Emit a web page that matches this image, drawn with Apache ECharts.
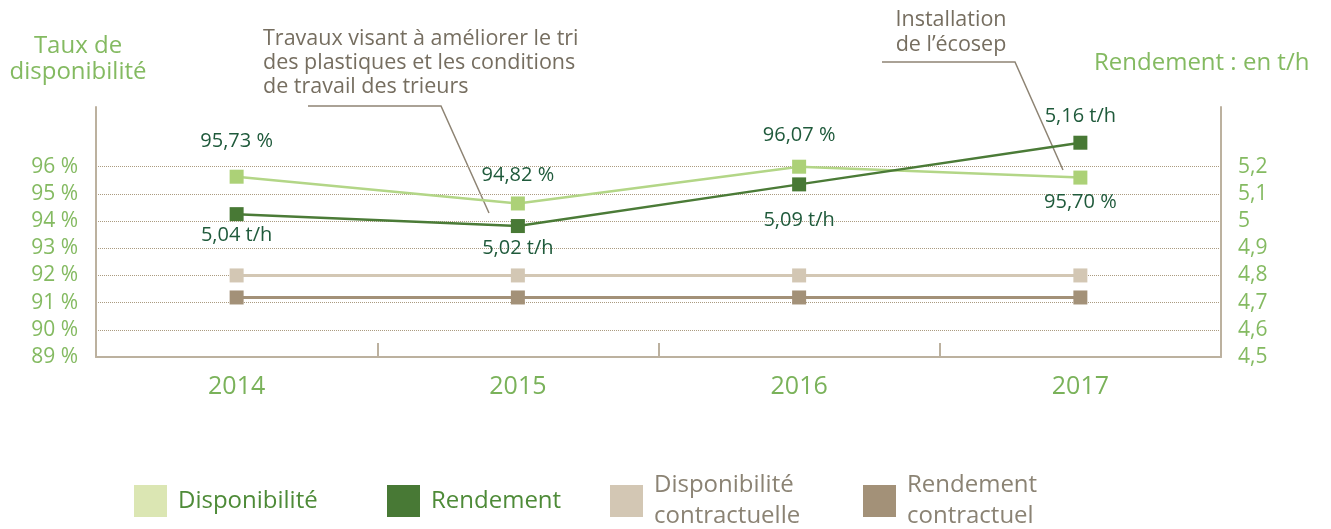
<!DOCTYPE html>
<html lang="fr">
<head>
<meta charset="utf-8">
<title>Disponibilité et rendement 2014–2017</title>
<script src="https://cdn.jsdelivr.net/npm/echarts@6/dist/echarts.min.js"></script>
<style>
  html, body { margin: 0; padding: 0; background: #ffffff; }
  #chart { width: 1331px; height: 529px; }
</style>
</head>
<body>
<div id="chart"></div>
<script>
// Years on the horizontal axis
const years = ['2014', '2015', '2016', '2017'];

// Availability rate (%) and throughput (t/h)
const disponibilite = [95.73, 94.82, 96.07, 95.70];
const rendement = [5.04, 5.02, 5.09, 5.16];

// Contractual targets
const disponibiliteContractuelle = [92, 92, 92, 92];
const rendementContractuel = [4.9, 4.9, 4.9, 4.9];

// Tick labels of the two value axes
const tauxTicks = [89, 90, 91, 92, 93, 94, 95, 96];
const rendementTicks = [4.5, 4.6, 4.7, 4.8, 4.9, 5.0, 5.1, 5.2];

const FONT = '"Open Sans", "Noto Sans", sans-serif';
const GREEN_AXIS = '#84ba61';
const LABEL_GREEN = '#1f5a3b';
const GRID_DOT = '#ab9b80';
const AXIS_LINE = '#bcb19f';
const NOTE = '#766e60';

const fmtPct = v => v.toFixed(2).replace('.', ',') + ' %';
const fmtTh = v => v.toFixed(2).replace('.', ',') + ' t/h';
const fmtAxis = v => String(Math.round(v * 10) / 10).replace('.', ',');

// vertical offsets of the value labels relative to each marker
const dispOffsets = [-35, -28, -31, 25];
const rendOffsets = [21, 22, 36, -26];

function labelled(values, offsets, fmt) {
  return values.map((v, i) => ({
    value: v,
    label: {
      show: true,
      position: 'inside',
      offset: [0, offsets[i]],
      formatter: () => fmt(v),
      color: LABEL_GREEN,
      fontFamily: FONT,
      fontSize: 20
    }
  }));
}

const chart = echarts.init(document.getElementById('chart'), null, { renderer: 'canvas' });

const legendBase = {
  orient: 'horizontal',
  top: 485,
  padding: 0,
  icon: 'rect',
  itemWidth: 33,
  itemHeight: 32,
  selectedMode: false,
  textStyle: { fontFamily: FONT, fontSize: 24, lineHeight: 31, padding: [0, 0, 0, 6] }
};

const option = {
  animation: false,
  backgroundColor: '#ffffff',
  grid: [
    { left: 96, right: 110, top: 166.7, bottom: 172, containLabel: false },
    { left: 96, right: 110, top: 107, bottom: 172, containLabel: false }
  ],
  xAxis: [
    {
      gridIndex: 0, type: 'category', data: years,
      axisLine: { show: false }, axisTick: { show: false }, axisLabel: { show: false }
    },
    {
      gridIndex: 1, type: 'category', data: years,
      axisLine: { show: true, lineStyle: { color: AXIS_LINE, width: 2 } },
      axisTick: { show: true, inside: true, length: 14, lineStyle: { color: AXIS_LINE, width: 2 } },
      axisLabel: { color: '#7ab25a', fontFamily: FONT, fontSize: 25, lineHeight: 26, margin: 17 }
    }
  ],
  yAxis: [
    {
      gridIndex: 0, type: 'value', position: 'left',
      min: tauxTicks[0], max: tauxTicks[tauxTicks.length - 1], interval: 1,
      axisLine: { show: false }, axisTick: { show: false },
      axisLabel: { color: GREEN_AXIS, fontFamily: FONT, fontSize: 21, margin: 18, formatter: v => v + ' %' },
      splitLine: { show: true, lineStyle: { color: GRID_DOT, type: 'dotted', width: 1 } }
    },
    {
      gridIndex: 0, type: 'value', position: 'right',
      min: rendementTicks[0], max: rendementTicks[rendementTicks.length - 1], interval: 0.1,
      axisLine: { show: false }, axisTick: { show: false },
      axisLabel: { color: GREEN_AXIS, fontFamily: FONT, fontSize: 21, margin: 17, formatter: fmtAxis },
      splitLine: { show: false }
    },
    {
      // scale carrying the availability curve
      gridIndex: 1, type: 'value', position: 'left', min: 89.6, max: 98.1,
      axisLine: { show: true, lineStyle: { color: AXIS_LINE, width: 2 } },
      axisTick: { show: false }, axisLabel: { show: false }, splitLine: { show: false }
    },
    {
      // scale carrying the throughput curves
      gridIndex: 1, type: 'value', position: 'right', min: 4.8, max: 5.22,
      axisLine: { show: true, lineStyle: { color: AXIS_LINE, width: 2 } },
      axisTick: { show: false }, axisLabel: { show: false }, splitLine: { show: false }
    }
  ],
  legend: [
    Object.assign({}, legendBase, {
      left: 134,
      data: [{ name: 'Disponibilité', itemStyle: { color: '#dbe6b3' }, textStyle: { color: '#4e8b38' } }]
    }),
    Object.assign({}, legendBase, {
      left: 387,
      data: [{ name: 'Rendement', itemStyle: { color: '#487935' }, textStyle: { color: '#4e8b38' } }]
    }),
    Object.assign({}, legendBase, {
      left: 610, top: 470,
      data: [{ name: 'Disponibilité\ncontractuelle', itemStyle: { color: '#d3c7b4' }, textStyle: { color: '#8b8374' } }]
    }),
    Object.assign({}, legendBase, {
      left: 863, top: 470,
      data: [{ name: 'Rendement\ncontractuel', itemStyle: { color: '#a39178' }, textStyle: { color: '#8b8374' } }]
    })
  ],
  series: [
    {
      name: 'Disponibilité\ncontractuelle', type: 'line', xAxisIndex: 0, yAxisIndex: 0,
      data: disponibiliteContractuelle,
      symbol: 'rect', symbolSize: 14,
      lineStyle: { color: '#d3c7b4', width: 3 },
      itemStyle: { color: '#d3c7b4' },
      z: 3
    },
    {
      name: 'Rendement\ncontractuel', type: 'line', xAxisIndex: 1, yAxisIndex: 3,
      data: rendementContractuel,
      symbol: 'rect', symbolSize: 14,
      lineStyle: { color: '#a39178', width: 3 },
      itemStyle: { color: '#a39178' },
      z: 3
    },
    {
      name: 'Disponibilité', type: 'line', xAxisIndex: 1, yAxisIndex: 2,
      data: labelled(disponibilite, dispOffsets, fmtPct),
      symbol: 'rect', symbolSize: 14,
      lineStyle: { color: '#b3d687', width: 2.5 },
      itemStyle: { color: '#acd177' },
      z: 4
    },
    {
      name: 'Rendement', type: 'line', xAxisIndex: 1, yAxisIndex: 3,
      data: labelled(rendement, rendOffsets, fmtTh),
      symbol: 'rect', symbolSize: 14,
      lineStyle: { color: '#4b7b37', width: 2.5 },
      itemStyle: { color: '#487935' },
      z: 5
    }
  ],
  graphic: [
    // axis titles
    {
      type: 'text', x: 78, y: 33,
      style: {
        text: 'Taux de\ndisponibilité', textAlign: 'center', align: 'center',
        fill: GREEN_AXIS, font: '24px ' + FONT, lineHeight: 26
      }
    },
    {
      type: 'text', left: 1094, top: 51,
      style: { text: 'Rendement : en t/h', fill: GREEN_AXIS, font: '24px ' + FONT }
    },
    // notes with their leader lines
    {
      type: 'text', left: 263, top: 27,
      style: {
        text: 'Travaux visant à améliorer le tri\ndes plastiques et les conditions\nde travail des trieurs',
        fill: NOTE, font: '21.5px ' + FONT, lineHeight: 24
      }
    },
    {
      type: 'polyline', silent: true,
      shape: { points: [[308, 106], [441, 106], [489, 213]] },
      style: { stroke: '#8e8474', lineWidth: 1.5, fill: null }
    },
    {
      type: 'text', x: 951, y: 7,
      style: {
        text: 'Installation\nde l\u2019écosep', textAlign: 'center', align: 'center',
        fill: NOTE, font: '21.5px ' + FONT, lineHeight: 25
      }
    },
    {
      type: 'polyline', silent: true,
      shape: { points: [[882, 62], [1015, 62], [1063, 170]] },
      style: { stroke: '#8e8474', lineWidth: 1.5, fill: null }
    }
  ]
};

chart.setOption(option);
</script>
</body>
</html>
